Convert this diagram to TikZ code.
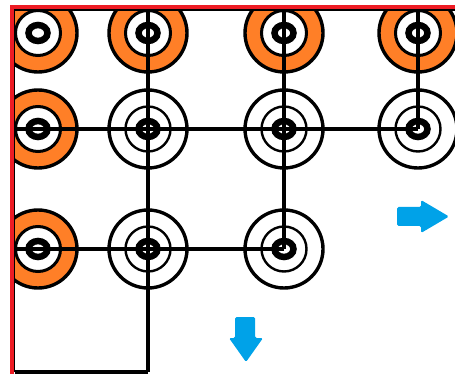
\documentclass[tikz,border=0pt]{standalone}
\usetikzlibrary{calc}
\definecolor{tgorange}{HTML}{FF7F27}
\definecolor{tgblue}{HTML}{00A2E8}
\definecolor{tgred}{HTML}{ED1C24}
\tikzset{
  targetbase/.style={circle, draw=black, line width=3.4pt, minimum size=78pt, inner sep=0pt},
  orangetarget/.style={targetbase, fill=tgorange,
    path picture={
      \draw[line width=3pt, fill=white] (path picture bounding box.center) circle (22.5pt);
      \draw[line width=6.5pt] (path picture bounding box.center) ellipse (9.5pt and 8pt);
    }},
  whitetarget/.style={targetbase, fill=white,
    path picture={
      \draw[line width=2.4pt] (path picture bounding box.center) circle (22.5pt);
      \draw[line width=6.5pt] (path picture bounding box.center) ellipse (9.5pt and 8pt);
    }},
  wire/.style={draw=black, line width=3.4pt},
  framethin/.style={draw=black, line width=1.8pt},
  redframe/.style={draw=tgred, line width=3.6pt},
  bluearrow/.style={fill=tgblue, draw=none, rounded corners=1.5pt}
}
\begin{document}
\begin{tikzpicture}[x=1pt, y=-1pt]
\useasboundingbox (0,0) rectangle (455,374);
\fill[white] (0,0) rectangle (455,374);
\begin{scope}
  \clip (14.5,10) rectangle (455,374);
  \node[orangetarget] (r1c1) at (38,33) {};
  \node[orangetarget] (r1c2) at (148,33) {};
  \node[orangetarget] (r1c3) at (284,33) {};
  \node[orangetarget] (r1c4) at (418,33) {};
  \node[orangetarget] (r2c1) at (38,129) {};
  \node[whitetarget] (r2c2) at (148,129) {};
  \node[whitetarget] (r2c3) at (284,129) {};
  \node[whitetarget] (r2c4) at (418,129) {};
  \node[orangetarget] (r3c1) at (38,249) {};
  \node[whitetarget] (r3c2) at (148,249) {};
  \node[whitetarget] (r3c3) at (284,249) {};
\end{scope}
% frame coordinates
\coordinate (t2) at (148,10);
\coordinate (t3) at (284,10);
\coordinate (t4) at (418,10);
\coordinate (b2) at (148,372);
\coordinate (bl) at (14.5,372);
\coordinate (l2) at (14.5,129);
\coordinate (l3) at (14.5,249);
\coordinate (tl) at (14.5,10);
\coordinate (tr) at (455,10);
% connectors
\draw[wire] (t2) -- (b2);
\draw[wire] (t3) -- (r3c3.center);
\draw[wire] (t4) -- (r2c4.center);
\draw[wire] (l2) -- (r2c4.center);
\draw[wire] (l3) -- (r3c3.center);
\draw[wire, line width=3.8pt] (bl) -- (b2);
% thin black frame
\draw[framethin] (tr) -- (tl) -- (bl);
% red frame
\draw[redframe] (455,7.3) -- (12,7.3) -- (12,374);
% blue arrows
\fill[bluearrow] (397,207) -- (421,207) -- (421,200) -- (449,216.5) -- (421,233) -- (421,226) -- (397,226) -- cycle;
\fill[bluearrow] (235,317) -- (255,317) -- (255,338) -- (263,338) -- (246,362) -- (229,338) -- (235,338) -- cycle;
\end{tikzpicture}
\end{document}
